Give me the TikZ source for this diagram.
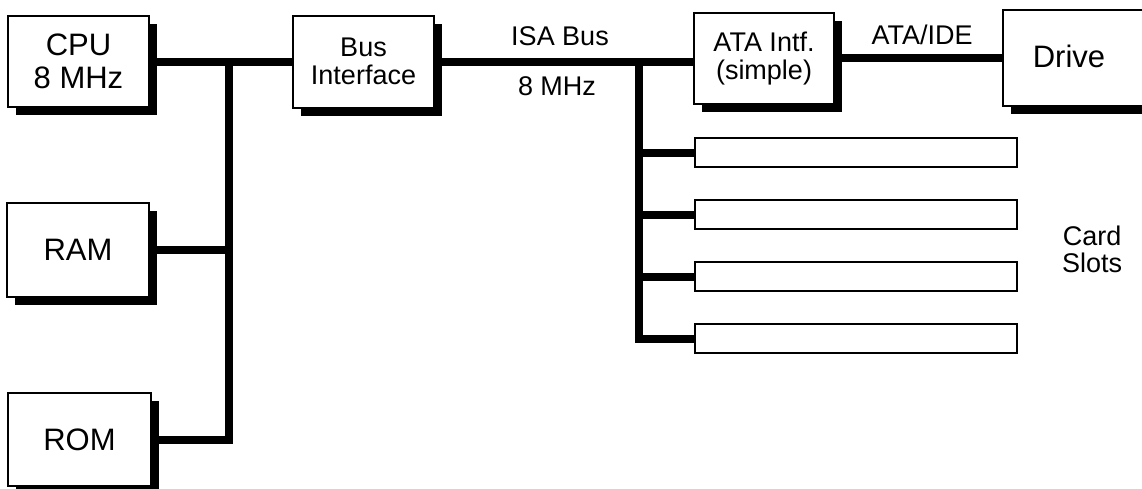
\documentclass[tikz,border=0pt]{standalone}
\usepackage{fontspec}
\setmainfont{Liberation Sans}
\usetikzlibrary{shadows}

\tikzset{
  bigbox/.style={draw, line width=2, fill=white, align=center,
    font=\fontsize{31}{33}\selectfont,
    drop shadow={opacity=1, fill=black, shadow xshift=8pt, shadow yshift=-8pt}},
  smallbox/.style={bigbox, font=\fontsize{27}{28}\selectfont},
  slotbox/.style={draw, line width=2.5, minimum width=322, minimum height=29},
  bus/.style={line width=8},
  buslabel/.style={align=center, font=\fontsize{27}{27}\selectfont},
}

\begin{document}
\begin{tikzpicture}[x=1pt, y=-1pt]

\useasboundingbox (0,0) rectangle (1142,488);

% memory side

\node[bigbox, minimum width=141, minimum height=91] (cpu) at (78.5,61.5) {CPU\\8 MHz};
\node[bigbox, minimum width=142, minimum height=94] (ram) at (78,250) {RAM};
\node[bigbox, minimum width=143, minimum height=93] (rom) at (79.5,439.5) {ROM};

% bridge and disk interface

\node[smallbox, minimum width=141, minimum height=92] (busif) at (363.5,61.5) {Bus\\Interface};
\node[smallbox, minimum width=140, minimum height=91] (ataif) at (764,58.5) {ATA Intf.\\(simple)};

% drive box runs off the page, so its label sits on its own
\node[bigbox, minimum width=200, minimum height=96] (drive) at (1103,58) {};
\node[font=\fontsize{31}{33}\selectfont] (drive_label) at (1069,56) {Drive};

% card slots

\node[slotbox] (slot1) at (856,152.5) {};
\node[slotbox] (slot2) at (856,214.5) {};
\node[slotbox] (slot3) at (856,276.5) {};
\node[slotbox] (slot4) at (856,338.5) {};

\node[buslabel] (slots_label) at (1092,249) {Card\\Slots};

% bus labels
\node[buslabel] (isa_label) at (560,36) {ISA Bus};
\node[buslabel] (isa_clock) at (557,86) {8 MHz};
\node[buslabel] (ide_label) at (922,35) {ATA/IDE};

% local bus
\coordinate (memjoin) at (229,61.5);
\draw[bus] (cpu.east) -- (busif.west);
\draw[bus] (memjoin) |- (rom.east);
\draw[bus] (memjoin |- ram.east) -- (ram.east);

% ISA bus
\coordinate (slotjoin) at (639,61.5);
\draw[bus] (busif.east) -- (busif.east -| ataif.west);
\draw[bus] (slotjoin) |- (slot4.west);
\draw[bus] (slotjoin |- slot1.west) -- (slot1.west);
\draw[bus] (slotjoin |- slot2.west) -- (slot2.west);
\draw[bus] (slotjoin |- slot3.west) -- (slot3.west);

% ATA cable
\draw[bus] (ataif.east |- 0,57.5) -- (drive.west |- 0,57.5);

\end{tikzpicture}
\end{document}
